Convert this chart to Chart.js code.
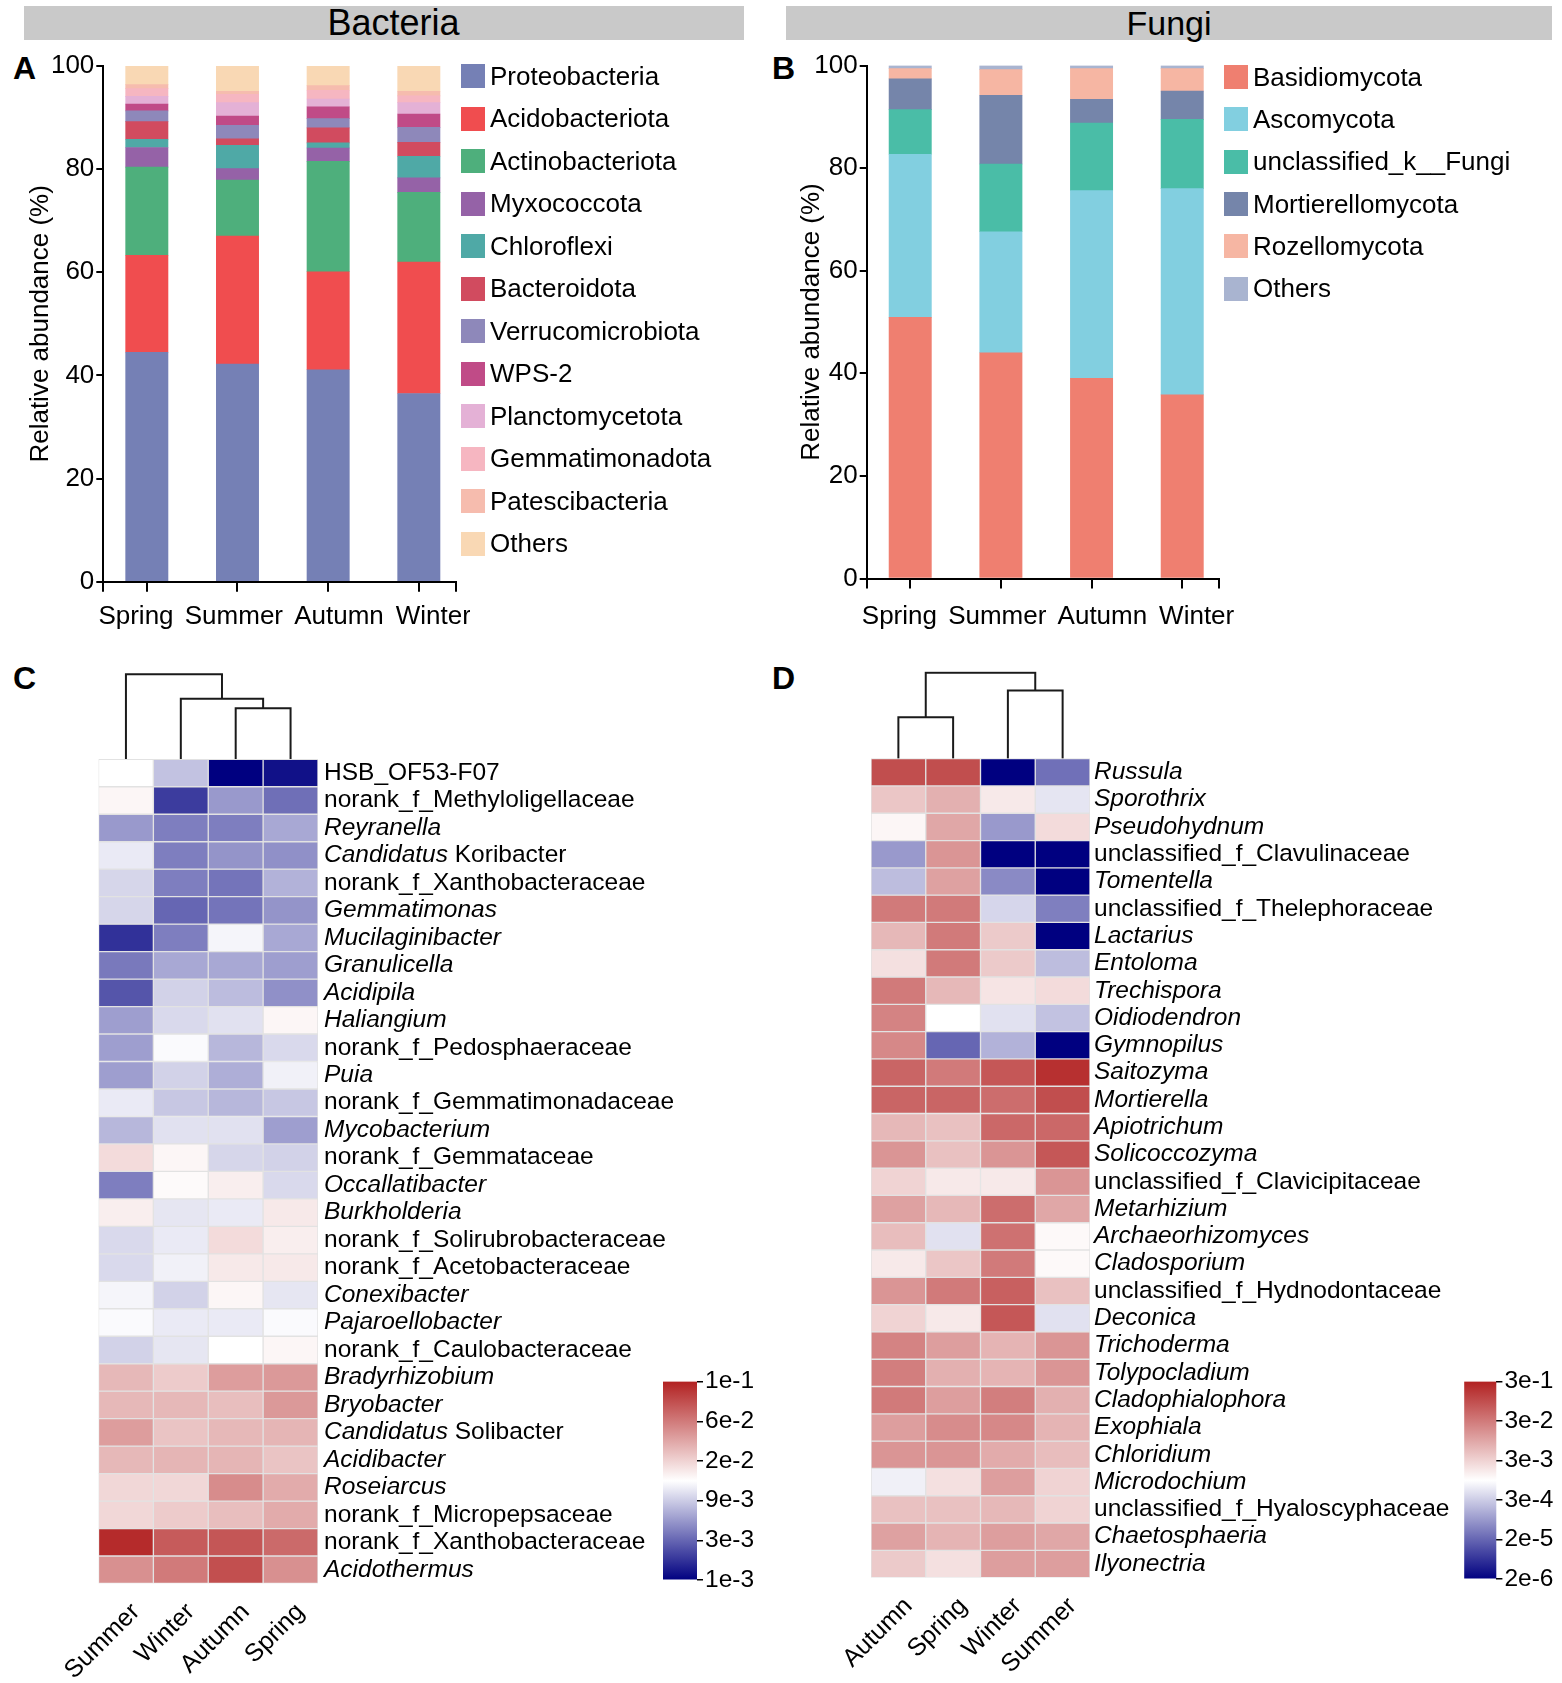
<!DOCTYPE html>
<html lang="en">
<head>
<meta charset="UTF-8" />
<title>Seasonal bacterial and fungal communities</title>
<script src="https://cdn.jsdelivr.net/npm/chart.js"></script>
<style>
  body { margin: 0; background: #fff; font-family: "Liberation Sans", Arial, sans-serif; color: #000; }
  #page { position: relative; width: 1562px; height: 1683px; overflow: hidden; }
  canvas { position: absolute; }
  .head { position: absolute; top: 6px; height: 34px; background: #c9c9c9; font-size: 34px; line-height: 34px; text-align: center; box-sizing: border-box; }
  .tag { position: absolute; font-size: 32px; font-weight: bold; line-height: 32px; }
  .legend { position: absolute; font-size: 26px; }
  .legend div { display: flex; align-items: center; white-space: nowrap; }
  .legend span { width: 24px; height: 24px; margin-right: 5px; flex: none; }
</style>
</head>
<body>
<div id="page">
  <div class="head" style="left:24px;width:720px;padding-left:19px;font-size:36px">Bacteria</div>
  <div class="head" style="left:786px;width:766px">Fungi</div>
  <div class="tag" style="left:13px;top:52px">A</div>
  <div class="tag" style="left:772px;top:52px">B</div>
  <div class="tag" style="left:13px;top:662px">C</div>
  <div class="tag" style="left:772px;top:662px">D</div>

  <canvas id="chartA" width="470" height="650" style="left:0;top:0"></canvas>
  <canvas id="chartB" width="454" height="650" style="left:780px;top:0"></canvas>
  <div id="legendA" class="legend" style="left:461px;top:55px"></div>
  <div id="legendB" class="legend" style="left:1224px;top:56px"></div>

  <canvas id="chartC" width="760" height="1043" style="left:0;top:640px"></canvas>
  <canvas id="chartD" width="782" height="1043" style="left:780px;top:640px"></canvas>
  <canvas id="barC" width="140" height="240" style="left:640px;top:1360px"></canvas>
  <canvas id="barD" width="122" height="240" style="left:1440px;top:1360px"></canvas>
</div>

<script>
  // ---- A / B: relative abundance (%) per season ----
  const seasons = ["Spring", "Summer", "Autumn", "Winter"];

  const bacteriaTaxa = ["Proteobacteria", "Acidobacteriota", "Actinobacteriota", "Myxococcota", "Chloroflexi",
    "Bacteroidota", "Verrucomicrobiota", "WPS-2", "Planctomycetota", "Gemmatimonadota", "Patescibacteria", "Others"];
  const bacteriaColors = ["#7580b5", "#f04d4f", "#4eaf7c", "#9562a7", "#4fa9a6", "#d14b5f",
    "#8e88ba", "#c04b87", "#e4b1d6", "#f6b6c1", "#f6bcae", "#f9d8b4"];
  const bacSpring = [44.5, 18.8, 17.1, 3.8, 1.6, 3.4, 2.1, 1.3, 1.5, 1.5, 0.8, 3.6];
  const bacSummer = [42.2, 24.8, 10.9, 2.2, 4.5, 1.3, 2.6, 1.8, 2.6, 1.6, 0.6, 4.9];
  const bacAutumn = [41.1, 19.0, 21.4, 2.6, 1.0, 2.9, 1.8, 2.3, 1.5, 1.7, 0.9, 3.8];
  const bacWinter = [36.5, 25.5, 13.5, 2.8, 4.2, 2.7, 2.9, 2.6, 2.2, 1.3, 0.9, 4.9];

  const fungiTaxa = ["Basidiomycota", "Ascomycota", "unclassified_k__Fungi", "Mortierellomycota", "Rozellomycota", "Others"];
  const fungiColors = ["#ef7f70", "#82cfe0", "#4abda7", "#7585aa", "#f6b6a3", "#a9b4d0"];
  const funSpring = [50.9, 31.8, 8.7, 6.0, 2.0, 0.6];
  const funSummer = [44.0, 23.6, 13.2, 13.4, 5.0, 0.8];
  const funAutumn = [39.0, 36.6, 13.2, 4.6, 6.0, 0.6];
  const funWinter = [35.8, 40.2, 13.5, 5.5, 4.4, 0.6];

  // ---- C: bacterial genera heatmap ----
  const colsC = ["Summer", "Winter", "Autumn", "Spring"];
  const rowsC = ["HSB_OF53-F07", "norank_f_Methyloligellaceae", "*Reyranella*", "*Candidatus* Koribacter",
    "norank_f_Xanthobacteraceae", "*Gemmatimonas*", "*Mucilaginibacter*", "*Granulicella*", "*Acidipila*",
    "*Haliangium*", "norank_f_Pedosphaeraceae", "*Puia*", "norank_f_Gemmatimonadaceae", "*Mycobacterium*",
    "norank_f_Gemmataceae", "*Occallatibacter*", "*Burkholderia*", "norank_f_Solirubrobacteraceae",
    "norank_f_Acetobacteraceae", "*Conexibacter*", "*Pajaroellobacter*", "norank_f_Caulobacteraceae",
    "*Bradyrhizobium*", "*Bryobacter*", "*Candidatus* Solibacter", "*Acidibacter*", "*Roseiarcus*",
    "norank_f_Micropepsaceae", "norank_f_Xanthobacteraceae", "*Acidothermus*"];
  const cSummer = [0.0134, 0.0145, 0.0052, 0.0114, 0.0097, 0.0097, 0.0017, 0.0037, 0.0025, 0.0055, 0.0055, 0.0055,
    0.0114, 0.0072, 0.0185, 0.0039, 0.0157, 0.0100, 0.0100, 0.0124, 0.0129, 0.0094, 0.028, 0.028, 0.039, 0.028,
    0.0192, 0.0192, 0.095, 0.046];
  const cWinter = [0.0081, 0.0019, 0.0039, 0.0039, 0.0039, 0.0030, 0.0039, 0.0061, 0.0094, 0.0100, 0.0129, 0.0094,
    0.0085, 0.0106, 0.0145, 0.0140, 0.0110, 0.0114, 0.0120, 0.0094, 0.0114, 0.0110, 0.022, 0.028, 0.024, 0.029,
    0.0192, 0.022, 0.072, 0.060];
  const cAutumn = [0.0010, 0.0052, 0.0039, 0.0049, 0.0035, 0.0035, 0.0124, 0.0061, 0.0076, 0.0106, 0.0072, 0.0065,
    0.0072, 0.0106, 0.0097, 0.0157, 0.0114, 0.0185, 0.0164, 0.0145, 0.0114, 0.0134, 0.039, 0.026, 0.028, 0.029,
    0.048, 0.026, 0.074, 0.077];
  const cSpring = [0.0012, 0.0033, 0.0061, 0.0047, 0.0068, 0.0049, 0.0061, 0.0055, 0.0047, 0.0145, 0.0100, 0.0120,
    0.0085, 0.0055, 0.0094, 0.0100, 0.0164, 0.0157, 0.0164, 0.0110, 0.0129, 0.0145, 0.041, 0.041, 0.029, 0.024,
    0.033, 0.033, 0.066, 0.046];
  const scaleC = [0.001, 0.003, 0.009, 0.02, 0.06, 0.1];
  // [left x, left base, right x, right base, merge height]
  const treeC = [[2, 0, 3, 0, 1.86], [1, 0, 2.5, 1.86, 2.2], [0, 0, 1.75, 2.2, 3.1]];

  // ---- D: fungal genera heatmap ----
  const colsD = ["Autumn", "Spring", "Winter", "Summer"];
  const rowsD = ["*Russula*", "*Sporothrix*", "*Pseudohydnum*", "unclassified_f_Clavulinaceae", "*Tomentella*",
    "unclassified_f_Thelephoraceae", "*Lactarius*", "*Entoloma*", "*Trechispora*", "*Oidiodendron*", "*Gymnopilus*",
    "*Saitozyma*", "*Mortierella*", "*Apiotrichum*", "*Solicoccozyma*", "unclassified_f_Clavicipitaceae",
    "*Metarhizium*", "*Archaeorhizomyces*", "*Cladosporium*", "unclassified_f_Hydnodontaceae", "*Deconica*",
    "*Trichoderma*", "*Tolypocladium*", "*Cladophialophora*", "*Exophiala*", "*Chloridium*", "*Microdochium*",
    "unclassified_f_Hyaloscyphaceae", "*Chaetosphaeria*", "*Ilyonectria*"];
  const dAutumn = [0.095, 4.2e-3, 1.2e-3, 7.7e-5, 2.0e-4, 3.0e-2, 6.0e-3, 2.1e-3, 3.0e-2, 2.4e-2, 2.1e-2, 5.3e-2,
    5.3e-2, 6.0e-3, 1.5e-2, 3.0e-3, 1.1e-2, 5.3e-3, 1.7e-3, 1.5e-2, 3.0e-3, 2.4e-2, 2.7e-2, 3.0e-2, 1.2e-2, 1.5e-2,
    6.7e-4, 4.8e-3, 1.1e-2, 3.8e-3];
  const dSpring = [0.095, 7.5e-3, 9.5e-3, 1.5e-2, 1.1e-2, 3.0e-2, 3.0e-2, 3.0e-2, 6.0e-3, 9.5e-4, 2.0e-5, 3.0e-2,
    5.3e-2, 4.8e-3, 4.8e-3, 1.7e-3, 6.0e-3, 4.8e-4, 4.2e-3, 3.0e-2, 1.7e-3, 1.2e-2, 7.5e-3, 1.2e-2, 1.9e-2, 1.5e-2,
    2.1e-3, 4.8e-3, 6.7e-3, 2.1e-3];
  const dWinter = [2.0e-6, 1.7e-3, 7.7e-5, 2.0e-6, 5.2e-5, 3.8e-4, 3.8e-3, 3.8e-3, 1.9e-3, 4.8e-4, 1.5e-4, 7.5e-2,
    4.2e-2, 4.8e-2, 1.5e-2, 1.7e-3, 4.2e-2, 3.8e-2, 3.0e-2, 6.0e-2, 7.5e-2, 6.7e-3, 6.7e-3, 2.7e-2, 2.1e-2, 8.5e-3,
    1.2e-2, 6.0e-3, 1.2e-2, 1.2e-2];
  const dSummer = [2.6e-5, 5.3e-4, 2.4e-3, 2.0e-6, 2.0e-6, 3.9e-5, 2.0e-6, 2.0e-4, 2.4e-3, 2.3e-4, 2.0e-6, 2.1e-1,
    9.5e-2, 4.8e-2, 7.5e-2, 1.5e-2, 9.5e-3, 1.1e-3, 1.1e-3, 4.8e-3, 4.8e-4, 1.5e-2, 1.5e-2, 7.5e-3, 6.7e-3, 5.3e-3,
    3.0e-3, 3.0e-3, 9.5e-3, 1.2e-2];
  const scaleD = [2e-6, 2e-5, 3e-4, 3e-3, 3e-2, 3e-1];
  const treeD = [[0, 0, 1, 0, 1.52], [2, 0, 3, 0, 2.5], [0.5, 1.52, 2.5, 2.5, 3.15]];

  const FONT = '"Liberation Sans", Arial, sans-serif';
  Chart.defaults.font.family = FONT;
  Chart.defaults.color = "#000";
  Chart.defaults.animation = false;
  Chart.defaults.plugins.legend.display = false;
  Chart.defaults.plugins.tooltip.enabled = false;

  // colour bar: ticks sit at equal steps, log-interpolated between them
  function scalePos(v, ticks) {
    const n = ticks.length - 1;
    if (v <= ticks[0]) return 0;
    if (v >= ticks[n]) return 1;
    let k = 0;
    while (v > ticks[k + 1]) k++;
    return (k + Math.log(v / ticks[k]) / Math.log(ticks[k + 1] / ticks[k])) / n;
  }
  const LOW = [0, 0, 128], MID = [255, 255, 255], HIGH = [178, 34, 34];
  function heatColor(t) {
    const [a, b, f] = t < 0.5 ? [LOW, MID, t / 0.5] : [MID, HIGH, (t - 0.5) / 0.5];
    return "rgb(" + a.map((c, i) => Math.round(c + (b[i] - c) * f)).join(",") + ")";
  }

  const X_MIN = -0.48, X_MAX = 3.41;
  // the season names sit a little spread out under the ticks (negative = nudge left)
  const NUDGE = [-3, -1, 3, 4];
  const nbsp = n => "\u00a0".repeat(Math.abs(n));
  const nudged = i => NUDGE[i] < 0 ? seasons[i] + nbsp(NUDGE[i]) : nbsp(NUDGE[i]) + seasons[i];

  function stackedChart(id, taxa, colors, perSeason, o) {
    return new Chart(document.getElementById(id), {
      type: "bar",
      data: {
        datasets: taxa.map((name, k) => ({
          label: name,
          data: perSeason.map((vals, i) => ({ x: i, y: vals[k] })),
          backgroundColor: colors[k],
          borderWidth: 0,
          barThickness: 42.3
        }))
      },
      options: {
        responsive: false,
        layout: { padding: { left: 0, top: o.top, right: o.right, bottom: 0 } },
        scales: {
          x: {
            type: "linear", stacked: true, min: X_MIN, max: X_MAX, offset: false,
            afterBuildTicks: s => { s.ticks = [X_MIN, 0, 1, 2, 3, X_MAX].map(v => ({ value: v })); },
            afterFit: s => { s.height = o.xh; },
            ticks: { autoSkip: false, maxRotation: 0, padding: o.lp, font: { size: 26 },
              callback: v => Number.isInteger(v) ? nudged(v) : "" },
            grid: { offset: false, drawOnChartArea: false, tickLength: 10, color: "#000", lineWidth: 2 },
            border: { color: "#000", width: 2 }
          },
          y: {
            stacked: true, min: 0, max: 100,
            afterFit: s => { s.width = o.yw; },
            ticks: { stepSize: 20, padding: 2, font: { size: 26 } },
            grid: { drawOnChartArea: false, tickLength: 7, color: "#000", lineWidth: 2 },
            border: { color: "#000", width: 2 },
            title: { display: true, text: "Relative abundance (%)", font: { size: 26 }, padding: { top: o.tp, bottom: 0 } }
          }
        }
      }
    });
  }

  function htmlLegend(chart, id, pitch) {
    const el = document.getElementById(id);
    chart.data.datasets.forEach(ds => {
      const row = document.createElement("div");
      row.style.height = pitch + "px";
      const box = document.createElement("span");
      box.style.background = ds.backgroundColor;
      row.append(box, document.createTextNode(ds.label));
      el.append(row);
    });
  }

  const chartA = stackedChart("chartA", bacteriaTaxa, bacteriaColors,
    [bacSpring, bacSummer, bacAutumn, bacWinter], { top: 66, right: 14, xh: 68.3, yw: 103.3, tp: 25.2, lp: 10 });
  const chartB = stackedChart("chartB", fungiTaxa, fungiColors,
    [funSpring, funSummer, funAutumn, funWinter], { top: 65.5, right: 14.6, xh: 71.5, yw: 86.7, tp: 16.4, lp: 13 });
  htmlLegend(chartA, "legendA", 42.5);
  htmlLegend(chartB, "legendB", 42.3);

  // row names drawn next to the heatmap; *text* = italic
  const rowLabels = {
    id: "rowLabels",
    afterDatasetsDraw(chart, args, opts) {
      const { ctx, chartArea, scales: { y } } = chart;
      ctx.save();
      ctx.fillStyle = "#000";
      ctx.textBaseline = "middle";
      opts.rows.forEach((label, r) => {
        let x = chartArea.right + opts.gap;
        const py = y.getPixelForValue(-r - 0.5);
        label.split("*").forEach((part, k) => {
          if (!part) return;
          ctx.font = (k % 2 ? "italic " : "") + opts.size + "px " + FONT;
          ctx.fillText(part, x, py);
          x += ctx.measureText(part).width;
        });
      });
      ctx.restore();
    }
  };

  function heatmap(id, cols, rows, colValues, ticks, tree, o) {
    const cells = rows.map((name, r) => ({
      type: "bar",
      label: name,
      data: cols.map(() => [-(r + 1), -r]),
      backgroundColor: colValues.map(col => heatColor(scalePos(col[r], ticks))),
      borderColor: "#e2e2e2",
      borderWidth: 1,
      borderSkipped: false,
      grouped: false,
      barPercentage: 1,
      categoryPercentage: 1
    }));
    const links = tree.map(([lx, lb, rx, rb, h]) => ({
      type: "line",
      xAxisID: "xd",
      data: [{ x: lx, y: lb }, { x: lx, y: h }, { x: rx, y: h }, { x: rx, y: rb }],
      borderColor: "#1a1a1a",
      borderWidth: 2,
      pointRadius: 0,
      tension: 0,
      fill: false
    }));
    return new Chart(document.getElementById(id), {
      type: "bar",
      data: { labels: cols, datasets: [...cells, ...links] },
      plugins: [rowLabels],
      options: {
        responsive: false,
        layout: { padding: o.pad },
        plugins: { rowLabels: { rows, gap: o.gap, size: 24.5 } },
        scales: {
          x: {
            type: "category", offset: true,
            afterFit: s => { s.height = o.xh; },
            grid: { display: false }, border: { display: false },
            ticks: { autoSkip: false, minRotation: 45, maxRotation: 45, padding: 6, labelOffset: 10, font: { size: 25 } }
          },
          xd: { type: "linear", display: false, offset: false, min: -0.5, max: 3.5 },
          y: { type: "linear", display: false, min: -rows.length, max: 3.2 }
        }
      }
    });
  }

  heatmap("chartC", colsC, rowsC, [cSummer, cWinter, cAutumn, cSpring], scaleC, treeC,
    { pad: { left: 98.5, top: 31.4, right: 442, bottom: 0 }, xh: 99.5, gap: 6 });
  heatmap("chartD", colsD, rowsD, [dAutumn, dSpring, dWinter, dSummer], scaleD, treeD,
    { pad: { left: 91, top: 31.3, right: 472, bottom: 0 }, xh: 105.4, gap: 4 });

  function colourBar(id, ticks, o) {
    const n = ticks.length - 1;
    return new Chart(document.getElementById(id), {
      type: "bar",
      data: {
        labels: [""],
        datasets: [{
          data: [[0, n]],
          barPercentage: 1,
          categoryPercentage: 1,
          borderWidth: 0,
          backgroundColor: c => {
            const ca = c.chart.chartArea;
            if (!ca) return "#fff";
            const g = c.chart.ctx.createLinearGradient(0, ca.bottom, 0, ca.top);
            [0, 0.5, 1].forEach(t => g.addColorStop(t, heatColor(t)));
            return g;
          }
        }]
      },
      options: {
        responsive: false,
        layout: { padding: o.pad },
        scales: {
          x: { display: false },
          y: {
            position: "right", min: 0, max: n,
            afterBuildTicks: s => { s.ticks = ticks.map((_, i) => ({ value: i })); },
            afterFit: s => { s.width = o.w; },
            ticks: { padding: 2, font: { size: 24.5 }, callback: v => ticks[v].toExponential(0).replace("+", "") },
            grid: { drawOnChartArea: false, tickLength: 6, color: "#000", lineWidth: 1.5 },
            border: { display: false }
          }
        }
      }
    });
  }

  colourBar("barC", scaleC, { pad: { left: 23, top: 21.6, right: 0, bottom: 20 }, w: 83 });
  colourBar("barD", scaleD, { pad: { left: 24.2, top: 21.6, right: 0, bottom: 21 }, w: 65.6 });
</script>
</body>
</html>
